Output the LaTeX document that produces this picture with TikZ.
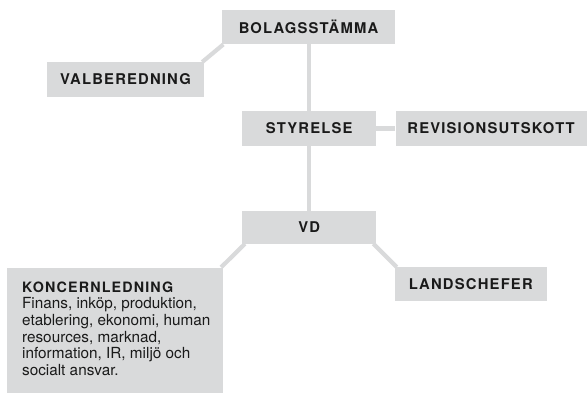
\documentclass[tikz,border=0pt]{standalone}
\usepackage{fontspec}
\setmainfont{TeX Gyre Heros}
\newfontfamily\capfont[LetterSpace=8]{TeX Gyre Heros}
\usepackage{tikz}
\usetikzlibrary{backgrounds}
\definecolor{boxgray}{RGB}{217,218,219}
\definecolor{inkgray}{RGB}{26,26,26}

\tikzset{
  orgbox/.style={fill=boxgray, text=inkgray, inner sep=0pt,
    minimum height=34.5pt,
    font=\capfont\bfseries\fontsize{14.8}{17}\selectfont},
  orgline/.style={draw=boxgray, line width=4.2pt},
}

\begin{document}
\begin{tikzpicture}[x=1pt,y=-1pt]
  \useasboundingbox (0,0) rectangle (587,392);

  \node[orgbox, minimum width=173pt] (bolag) at (308.5,27) {BOLAGSSTÄMMA};
  \node[orgbox, minimum width=157pt] (valb) at (125.5,79.5) {VALBEREDNING};
  \node[orgbox, minimum width=134pt] (styr) at (309.2,128.5) {STYRELSE};
  \node[orgbox, minimum width=191pt] (revis) at (491,128.5) {REVISIONSUTSKOTT};
  \node[orgbox, minimum width=134pt, minimum height=32.5pt] (vd) at (309.2,227.3) {VD};
  \node[orgbox, minimum width=151.7pt, minimum height=33.7pt] (landsch) at (470.8,284.2) {LANDSCHEFER};
  \node[orgbox, anchor=north west, minimum height=0pt, minimum width=215.7pt,
    inner xsep=0pt, inner ysep=14pt,
    font=\fontsize{15.3}{16.7}\selectfont] (koncern) at (7,267.3)
    {\hspace*{14.7pt}\vtop{%
     \hbox{\capfont\bfseries\fontsize{14.3}{16.7}\selectfont KONCERNLEDNING}
     \hbox{Finans, inköp, produktion,}
     \hbox{etablering, ekonomi, human}
     \hbox{resources, marknad,}
     \hbox{information, IR, miljö och}
     \hbox{socialt ansvar.\rule[-7pt]{0pt}{7pt}}}\hspace*{12.2pt}};

  \begin{scope}[on background layer]
    \draw[orgline] (styr.north) -- (styr.north |- bolag.south);
    \draw[orgline] (styr) -- (revis);
    \draw[orgline] (styr) -- (vd);
    \draw[orgline] ([xshift=-2pt]valb.north east) -- ([xshift=1.5pt]bolag.south west);
    \draw[orgline] ([xshift=3pt]vd.south west) -- ([xshift=-2pt]koncern.north east);
    \draw[orgline] ([xshift=-3pt]vd.south east) -- ([xshift=2pt]landsch.north west);
  \end{scope}
\end{tikzpicture}
\end{document}
